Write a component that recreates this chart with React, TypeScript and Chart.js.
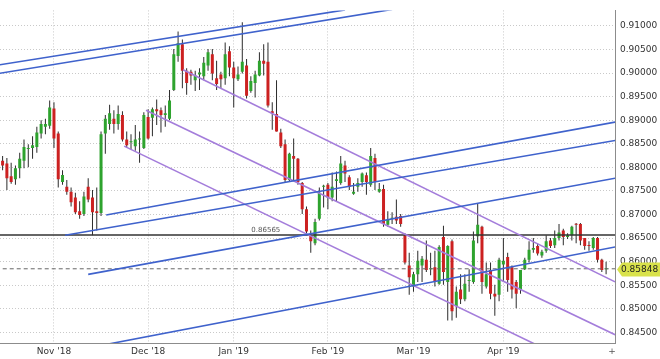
import React, { useEffect, useRef } from "react";
import { Chart, registerables } from "chart.js";

Chart.register(...registerables);

// ---- Daily EUR/GBP-style candles (index = trading day) ----
const opens = [
  0.8814, 0.8808, 0.8781, 0.8775, 0.8798, 0.8814, 0.8839, 0.8841, 0.8843, 0.8872,
  0.8886, 0.8888, 0.8925, 0.8872, 0.8769, 0.8759, 0.8748, 0.8736, 0.8707, 0.8701,
  0.8759, 0.8736, 0.8707, 0.8703, 0.8872, 0.8892, 0.8903, 0.8892, 0.8911, 0.8859,
  0.8853, 0.8845, 0.8859, 0.8841, 0.8907, 0.8905, 0.8923, 0.8921, 0.8911, 0.8903,
  0.8964, 0.9036, 0.9061, 0.9005, 0.9003, 0.8985, 0.8997, 0.8993, 0.9016, 0.9040,
  0.8989, 0.8997, 0.8989, 0.9046, 0.9012, 0.8987, 0.9003, 0.9016, 0.8962, 0.8979,
  0.8995, 0.9026, 0.9024, 0.8919, 0.8913, 0.8874, 0.8849, 0.8773, 0.8824, 0.8818,
  0.8767, 0.8711, 0.8656, 0.8639, 0.8691, 0.8759, 0.8763, 0.8736, 0.8771, 0.8767,
  0.8804, 0.8779, 0.8744, 0.8759, 0.8769, 0.8783, 0.8763, 0.8820, 0.8748, 0.8754,
  0.8678, 0.8691, 0.8695, 0.8697, 0.8656, 0.8592, 0.8547, 0.8573, 0.8592, 0.8604,
  0.8584, 0.8588, 0.8553, 0.8652, 0.8557, 0.8643, 0.8506, 0.8541, 0.8520, 0.8559,
  0.8557, 0.8654, 0.8674, 0.8547, 0.8582, 0.8532, 0.8530, 0.8594, 0.8610, 0.8588,
  0.8557, 0.8541, 0.8584, 0.8604, 0.8625, 0.8633, 0.8613, 0.8623, 0.8645, 0.8635,
  0.8650, 0.8666, 0.8652, 0.8656, 0.8680, 0.8680, 0.8650, 0.8635, 0.8629, 0.8650,
  0.8604, 0.8584,
];
const highs = [
  0.8824, 0.8820, 0.8810, 0.8804, 0.8831, 0.8859, 0.8849, 0.8866, 0.8886, 0.8900,
  0.8903, 0.8942, 0.8938, 0.8876, 0.8794, 0.8773, 0.8757, 0.8746, 0.8728, 0.8748,
  0.8777, 0.8752, 0.8757, 0.8876, 0.8911, 0.8933, 0.8921, 0.8931, 0.8919, 0.8876,
  0.8870, 0.8890, 0.8876, 0.8917, 0.8923, 0.8927, 0.8944, 0.8927, 0.8931, 0.8964,
  0.9051, 0.9088, 0.9071, 0.9010, 0.9007, 0.9005, 0.9010, 0.9034, 0.9051, 0.9051,
  0.9026, 0.9003, 0.9065, 0.9057, 0.9024, 0.9014, 0.9108, 0.9030, 0.8993, 0.9005,
  0.9044, 0.9061, 0.9065, 0.8938, 0.8985, 0.8882, 0.8859, 0.8831, 0.8861, 0.8820,
  0.8769, 0.8717, 0.8666, 0.8691, 0.8757, 0.8763, 0.8767, 0.8789, 0.8791, 0.8824,
  0.8814, 0.8783, 0.8767, 0.8777, 0.8789, 0.8789, 0.8841, 0.8829, 0.8767, 0.8763,
  0.8707, 0.8705, 0.8732, 0.8701, 0.8660, 0.8619, 0.8578, 0.8623, 0.8612, 0.8645,
  0.8619, 0.8623, 0.8635, 0.8676, 0.8635, 0.8647, 0.8547, 0.8573, 0.8573, 0.8584,
  0.8664, 0.8722, 0.8676, 0.8598, 0.8598, 0.8551, 0.8608, 0.8650, 0.8619, 0.8592,
  0.8561, 0.8547, 0.8608, 0.8643, 0.8650, 0.8639, 0.8625, 0.8656, 0.8650, 0.8666,
  0.8680, 0.8670, 0.8660, 0.8676, 0.8682, 0.8682, 0.8650, 0.8643, 0.8652, 0.8652,
  0.8606, 0.8600,
];
const lows = [
  0.8794, 0.8752, 0.8765, 0.8763, 0.8777, 0.8798, 0.8800, 0.8818, 0.8831, 0.8861,
  0.8870, 0.8882, 0.8841, 0.8757, 0.8763, 0.8742, 0.8717, 0.8701, 0.8691, 0.8697,
  0.8726, 0.8656, 0.8666, 0.8697, 0.8829, 0.8880, 0.8872, 0.8880, 0.8855, 0.8841,
  0.8839, 0.8835, 0.8810, 0.8839, 0.8859, 0.8866, 0.8890, 0.8874, 0.8886, 0.8900,
  0.8962, 0.9024, 0.8968, 0.8954, 0.8975, 0.8962, 0.8964, 0.8985, 0.9005, 0.8985,
  0.8964, 0.8968, 0.8975, 0.8993, 0.8927, 0.8983, 0.8999, 0.8946, 0.8958, 0.8948,
  0.8993, 0.8995, 0.8927, 0.8880, 0.8876, 0.8841, 0.8767, 0.8769, 0.8773, 0.8763,
  0.8701, 0.8660, 0.8619, 0.8635, 0.8687, 0.8715, 0.8711, 0.8728, 0.8728, 0.8763,
  0.8769, 0.8752, 0.8742, 0.8748, 0.8759, 0.8742, 0.8759, 0.8752, 0.8746, 0.8674,
  0.8674, 0.8680, 0.8680, 0.8674, 0.8594, 0.8530, 0.8536, 0.8557, 0.8557, 0.8578,
  0.8571, 0.8547, 0.8551, 0.8551, 0.8475, 0.8475, 0.8481, 0.8510, 0.8516, 0.8536,
  0.8553, 0.8639, 0.8532, 0.8543, 0.8520, 0.8485, 0.8516, 0.8557, 0.8536, 0.8522,
  0.8501, 0.8532, 0.8582, 0.8598, 0.8619, 0.8613, 0.8608, 0.8619, 0.8629, 0.8629,
  0.8645, 0.8635, 0.8648, 0.8645, 0.8639, 0.8635, 0.8625, 0.8623, 0.8625, 0.8598,
  0.8578, 0.8573,
];
const closes = [
  0.8804, 0.8777, 0.8769, 0.8798, 0.8818, 0.8843, 0.8841, 0.8847, 0.8874, 0.8892,
  0.8892, 0.8927, 0.8861, 0.8775, 0.8784, 0.8748, 0.8726, 0.8705, 0.8699, 0.8738,
  0.8732, 0.8705, 0.8703, 0.8870, 0.8903, 0.8915, 0.8892, 0.8913, 0.8859, 0.8847,
  0.8855, 0.8859, 0.8861, 0.8911, 0.8861, 0.8923, 0.8919, 0.8911, 0.8915, 0.8942,
  0.9040, 0.9063, 0.9005, 0.8979, 0.8995, 0.8995, 0.9001, 0.9022, 0.9044, 0.8999,
  0.8977, 0.8987, 0.9040, 0.9012, 0.8989, 0.8997, 0.9024, 0.8952, 0.8983, 0.8997,
  0.9026, 0.9020, 0.8931, 0.8915, 0.8876, 0.8845, 0.8773, 0.8829, 0.8818, 0.8769,
  0.8711, 0.8664, 0.8643, 0.8684, 0.8746, 0.8761, 0.8736, 0.8759, 0.8775, 0.8808,
  0.8787, 0.8759, 0.8748, 0.8767, 0.8787, 0.8769, 0.8824, 0.8769, 0.8754, 0.8680,
  0.8689, 0.8693, 0.8687, 0.8680, 0.8598, 0.8567, 0.8573, 0.8602, 0.8606, 0.8582,
  0.8586, 0.8557, 0.8631, 0.8578, 0.8633, 0.8495, 0.8536, 0.8520, 0.8553, 0.8561,
  0.8645, 0.8678, 0.8557, 0.8573, 0.8532, 0.8526, 0.8604, 0.8602, 0.8561, 0.8541,
  0.8532, 0.8582, 0.8604, 0.8625, 0.8629, 0.8617, 0.8621, 0.8643, 0.8633, 0.8650,
  0.8662, 0.8652, 0.8656, 0.8674, 0.8678, 0.8645, 0.8633, 0.8633, 0.8650, 0.8604,
  0.8582, 0.85848,
];

// ---- Axis ticks ----
const monthTicks = [12, 34, 54, 76, 96, 117];
const monthLabels = ["Nov '18", "Dec '18", "Jan '19", "Feb '19", "Mar '19", "Apr '19"];
const priceTicks = [
  0.845, 0.85, 0.855, 0.86, 0.865, 0.87, 0.875, 0.88, 0.885, 0.89, 0.895, 0.9, 0.905, 0.91,
];
const xRange = [-0.607, 143.08];
const yRange = [0.84274, 0.91329];

// ---- Drawn lines: [startIndex, startPrice, endIndex, endPrice] ----
const blueLines = [
  [-1, 0.9017, 80, 0.9134],
  [-1, 0.8999, 91, 0.9135],
  [24.2, 0.8699, 143.1, 0.8896],
  [14.6, 0.8656, 143.1, 0.8857],
  [20, 0.8573, 143.1, 0.8777],
  [20, 0.8417, 143.1, 0.8631],
];
const purpleLines = [
  [42.15, 0.9007, 143.1, 0.8557],
  [33.5, 0.8921, 143.1, 0.8445],
  [28.4, 0.8845, 126, 0.8418],
];
const levelPrice = 0.86565;
const levelLabelIndex = 61.5;
const lastPrice = closes[closes.length - 1];

const FONT = "'DejaVu Sans', Verdana, sans-serif";

const overlayPlugin = {
  id: "overlay",
  afterDraw(chart: any) {
    const { ctx, chartArea } = chart;
    const x = chart.scales.x;
    const y = chart.scales.y;
    ctx.save();
    // level label
    ctx.font = `7px ${FONT}`;
    ctx.fillStyle = "#555";
    ctx.textAlign = "center";
    ctx.textBaseline = "bottom";
    ctx.fillText(levelPrice.toFixed(5), x.getPixelForValue(levelLabelIndex), y.getPixelForValue(levelPrice) - 1);

    // last price marker
    const py = Math.round(y.getPixelForValue(lastPrice)) + 0.5;
    const left = chartArea.right + 2;
    const w = chart.width;
    ctx.fillStyle = "#d9e24b";
    ctx.beginPath();
    ctx.moveTo(left, py);
    ctx.lineTo(left + 5, py - 7);
    ctx.lineTo(w, py - 7);
    ctx.lineTo(w, py + 7);
    ctx.lineTo(left + 5, py + 7);
    ctx.closePath();
    ctx.fill();
    ctx.fillStyle = "#222";
    ctx.font = `9px ${FONT}`;
    ctx.textAlign = "left";
    ctx.textBaseline = "middle";
    ctx.fillText(lastPrice.toFixed(5), left + 4, py + 0.5);

    // plus glyph at the bottom right
    ctx.fillStyle = "#555";
    ctx.textAlign = "center";
    ctx.fillText("+", chartArea.right - 3, chartArea.bottom + 9);
    ctx.restore();
  },
};

export default function App() {
  const ref = useRef<HTMLCanvasElement | null>(null);

  useEffect(() => {
    if (!ref.current) return;
    const idx = closes.map((_, i) => i);
    const up = idx.filter((i) => closes[i] >= opens[i]);
    const down = idx.filter((i) => closes[i] < opens[i]);

    const lineDs = (seg: number[], color: string) => ({
      type: "line" as const,
      data: [
        { x: seg[0], y: seg[1] },
        { x: seg[2], y: seg[3] },
      ],
      borderColor: color,
      borderWidth: 1.6,
      pointRadius: 0,
      fill: false,
      order: 0,
    });

    const datasets: any[] = [
      ...blueLines.map((s) => lineDs(s, "#3f62cc")),
      ...purpleLines.map((s) => lineDs(s, "#a47ddb")),
      {
        type: "line",
        data: [
          { x: xRange[0] - 1, y: levelPrice },
          { x: xRange[1] + 1, y: levelPrice },
        ],
        borderColor: "#333",
        borderWidth: 1.6,
        pointRadius: 0,
        order: 0,
      },
      {
        type: "line",
        data: [
          { x: xRange[0] - 1, y: lastPrice },
          { x: xRange[1] + 1, y: lastPrice },
        ],
        borderColor: "#666",
        borderWidth: 1,
        borderDash: [4, 3],
        pointRadius: 0,
        order: 0,
      },
      {
        type: "bar",
        data: up.map((i) => ({ x: i, y: [opens[i], closes[i]] })),
        backgroundColor: "#2ea32e",
        maxBarThickness: 3,
        minBarLength: 1,
        grouped: false,
        borderWidth: 0,
        order: 1,
      },
      {
        type: "bar",
        data: down.map((i) => ({ x: i, y: [opens[i], closes[i]] })),
        backgroundColor: "#cc2121",
        maxBarThickness: 3,
        minBarLength: 1,
        grouped: false,
        borderWidth: 0,
        order: 1,
      },
      {
        type: "bar",
        data: idx.map((i) => ({ x: i, y: [lows[i], highs[i]] })),
        backgroundColor: "#2b2b2b",
        maxBarThickness: 1,
        grouped: false,
        borderWidth: 0,
        order: 2,
      },
    ];

    const tickFont = { family: FONT, size: 9 };

    const chart = new Chart(ref.current, {
      type: "bar",
      data: { datasets },
      options: {
        responsive: false,
        animation: false,
        layout: { padding: 0 },
        plugins: { legend: { display: false }, tooltip: { enabled: false } },
        scales: {
          x: {
            type: "linear",
            min: xRange[0],
            max: xRange[1],
            offset: false,
            grid: { color: "#c9c9c9", drawTicks: false, offset: false },
            border: { display: true, color: "#8c8c8c", dash: [1, 2] },
            ticks: {
              font: tickFont,
              color: "#333",
              padding: 3,
              autoSkip: false,
              maxRotation: 0,
              callback: (v: any) => {
                const k = monthTicks.indexOf(Number(v));
                return k >= 0 ? monthLabels[k] : "";
              },
            },
            afterBuildTicks: (s: any) => {
              s.ticks = monthTicks.map((v) => ({ value: v }));
            },
            afterFit: (s: any) => {
              s.height = 16;
            },
          },
          y: {
            type: "linear",
            position: "right",
            min: yRange[0],
            max: yRange[1],
            beginAtZero: false,
            grid: { color: "#c9c9c9", drawTicks: false },
            border: { display: true, color: "#8c8c8c", dash: [1, 2] },
            ticks: {
              font: tickFont,
              color: "#333",
              padding: 5,
              callback: (v: any) => Number(v).toFixed(5),
            },
            afterBuildTicks: (s: any) => {
              s.ticks = priceTicks.map((v) => ({ value: v }));
            },
            afterFit: (s: any) => {
              s.width = 45;
            },
          },
        },
      } as any,
      plugins: [overlayPlugin],
    });
    return () => chart.destroy();
  }, []);

  return (
    <div style={{ position: "fixed", left: 0, top: 0, width: 660, height: 359, background: "#fff" }}>
      <canvas ref={ref} width={660} height={359} style={{ display: "block" }} />
    </div>
  );
}
